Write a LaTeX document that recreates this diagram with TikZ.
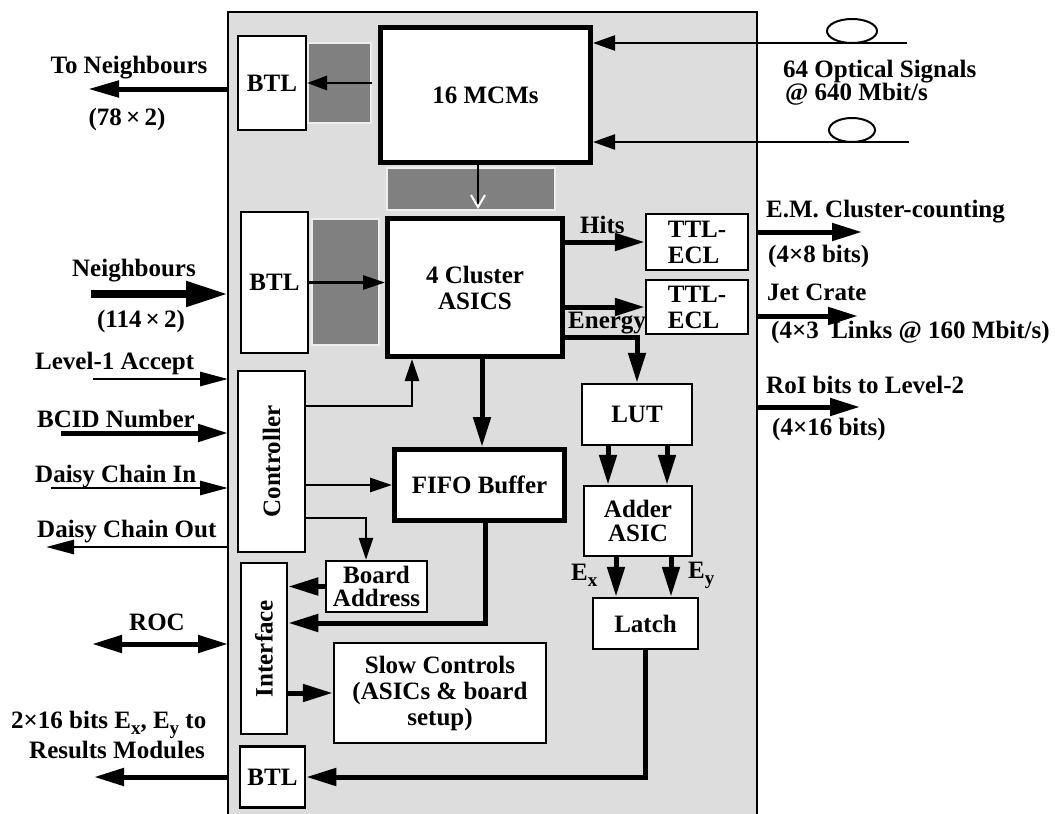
\documentclass[tikz,border=0pt]{standalone}
\usepackage{fontspec}
\usepackage{graphicx}
\setmainfont{Liberation Serif}
\usetikzlibrary{arrows.meta,shapes.geometric}
\definecolor{panelgray}{RGB}{221,221,221}
\definecolor{darkfill}{RGB}{128,128,128}
\definecolor{edgelight}{RGB}{238,238,238}
\newcommand{\lowsub}[1]{\raisebox{-6pt}{\fontsize{19}{19}\selectfont #1}}
\tikzset{
  every node/.style={font=\fontsize{25}{26}\selectfont\bfseries},
  box/.style={draw, fill=white, line width=2.5pt, inner sep=0pt, align=center},
  bigbox/.style={box, line width=5pt},
  graysq/.style={draw=edgelight, fill=darkfill, line width=1.5pt, inner sep=0pt},
  lbl/.style={inner sep=0pt, anchor=base west},
  clbl/.style={inner sep=0pt, anchor=base},
  thinarr/.style={line width=2.8pt, -{Triangle[length=28pt,width=14pt]}},
  smallarr/.style={line width=2.8pt, -{Triangle[length=22pt,width=14pt]}},
  thickarr/.style={line width=5pt, -{Triangle[length=30pt,width=17pt]}},
  optarr/.style={line width=2.2pt, -{Triangle[length=22pt,width=15pt]}},
}
\begin{document}
\begin{tikzpicture}[x=1pt,y=-1pt]
\useasboundingbox (0,0) rectangle (1055,814);
\clip (0,0) rectangle (1055,814);
% panel
\node[draw, fill=panelgray, line width=2.5pt, minimum width=529pt, minimum height=818pt, inner sep=0pt] (panel) at (492.5,421) {};
% grey blocks
\node[graysq, minimum width=63pt, minimum height=80pt] (gsq1) at (339.5,83) {};
\node[graysq, minimum width=168pt, minimum height=42pt] (gbar) at (471,189) {};
\node[graysq, minimum width=67pt, minimum height=126pt] (gsq2) at (345.5,282) {};
% boxes
\node[box, line width=2pt, minimum width=68pt, minimum height=94pt] (btl1) at (272,83) {BTL};
\node[bigbox, minimum width=210pt, minimum height=135pt] (mcm) at (485.5,95) {16 MCMs};
\node[box, line width=2pt, minimum width=67pt, minimum height=141pt] (btl2) at (274.5,282.5) {BTL};
\node[bigbox, minimum width=175pt, minimum height=138pt] (clu) at (475,287.5) {4 Cluster\\ASICS};
\node[box, minimum width=102pt, minimum height=56pt, align=left] (ttl1) at (697,242) {TTL-\\ECL};
\node[box, minimum width=102pt, minimum height=54pt, align=left] (ttl2) at (697,307) {TTL-\\ECL};
\node[box, minimum width=110pt, minimum height=61pt] (lut) at (637,414.5) {LUT};
\node[box, minimum width=67pt, minimum height=181pt] (ctrl) at (271.5,461.5) {\rotatebox{90}{Controller}};
\node[bigbox, minimum width=170pt, minimum height=71pt] (fifo) at (479.5,485) {FIFO Buffer};
\node[box, minimum width=108pt, minimum height=70pt, font=\fontsize{25}{24}\selectfont\bfseries] (adder) at (638,521) {Adder\\ASIC};
\node[box, minimum width=105pt, minimum height=51pt] (latch) at (645.5,623.5) {Latch};
\node[box, minimum width=101pt, minimum height=51pt, font=\fontsize{25}{23}\selectfont\bfseries] (board) at (376.5,586.5) {Board\\Address};
\node[box, minimum width=46pt, minimum height=171pt] (iface) at (264,648.5) {\rotatebox{90}{Interface}};
\node[box, minimum width=212pt, minimum height=100pt] (slow) at (440,693) {Slow Controls\\(ASICs \& board\\setup)};
\node[box, minimum width=65pt, minimum height=61pt] (btl3) at (272.5,777) {BTL};
% optical fibres
\node[draw, ellipse, line width=2pt, fill=white, minimum width=50pt, minimum height=24pt, inner sep=0pt] (ell1) at (852,31) {};
\node[draw, ellipse, line width=2pt, fill=white, minimum width=46pt, minimum height=24pt, inner sep=0pt] (ell2) at (852,130) {};
\coordinate (o1) at (907,43);
\coordinate (o2) at (909,142);
\draw[optarr] (o1) -- (o1 -| mcm.east);
\draw[optarr] (o2) -- (o2 -| mcm.east);
% internal connectors
\draw[smallarr, -{Triangle[length=20pt,width=14pt]}] (gsq1.east) -- (btl1.east);
\coordinate (mdtip) at (478,209);
\draw[line width=2.5pt, -{Straight Barb[color=white,length=12pt,width=14pt,line width=2pt]}] (mcm.south -| mdtip) -- (mdtip);
\draw[smallarr] (btl2.east) -- (btl2.east -| clu.west);
\draw[thickarr] (clu.east |- ttl1) -- (ttl1.west);
\draw[thickarr] (clu.east |- ttl2) -- (ttl2.west);
\coordinate (en) at (565,337);
\draw[thickarr] (clu.east |- en) -| (lut.north);
\coordinate (la1) at (608,460);
\coordinate (la2) at (667,460);
\draw[thickarr] (lut.south -| la1) -- (adder.north -| la1);
\draw[thickarr] (lut.south -| la2) -- (adder.north -| la2);
\coordinate (al1) at (616,580);
\coordinate (al2) at (671,580);
\draw[thickarr] (adder.south -| al1) -- (latch.north -| al1);
\draw[thickarr] (adder.south -| al2) -- (latch.north -| al2);
\draw[thickarr] (latch.south) |- (btl3.east);
\coordinate (cf) at (482,400);
\draw[thickarr] (clu.south -| cf) -- (fifo.north -| cf);
\coordinate (c1) at (412,406);
\draw[smallarr] (ctrl.east |- c1) -- (c1) -- (clu.south -| c1);
\draw[smallarr] (ctrl.east |- fifo) -- (fifo.west);
\coordinate (c2) at (366,518);
\draw[smallarr] (ctrl.east |- c2) -| (board.north -| c2);
\coordinate (ff) at (485,623);
\draw[thickarr] (fifo.south -| ff) -- (ff) -- (iface.east |- ff);
\draw[thickarr] (board.west) -- (board.west -| iface.east);
\draw[thickarr] (iface.east |- slow.west) -- (slow.west);
% outer connectors, left
\coordinate (tn0) at (228,89);   \coordinate (tn1) at (88,89);
\draw[line width=5pt, -{Triangle[length=31pt,width=16pt]}] (tn0) -- (tn1);
\coordinate (nb0) at (91,294);   \coordinate (nb1) at (228,294);
\draw[line width=8pt, -{Triangle[length=42pt,width=24pt]}] (nb0) -- (nb1);
\coordinate (l10) at (93,379);   \coordinate (l11) at (228,379);
\draw[thinarr] (l10) -- (l11);
\coordinate (bc0) at (61,433);   \coordinate (bc1) at (228,433);
\draw[thickarr] (bc0) -- (bc1);
\coordinate (di0) at (51,488);   \coordinate (di1) at (228,488);
\draw[thinarr] (di0) -- (di1);
\coordinate (do0) at (228,547);  \coordinate (do1) at (46,547);
\draw[thinarr] (do0) -- (do1);
\coordinate (rc0) at (92,644);   \coordinate (rc1) at (228,644);
\draw[line width=5pt, {Triangle[length=30pt,width=17pt]}-{Triangle[length=30pt,width=17pt]}] (rc0) -- (rc1);
\coordinate (rm0) at (228,777);  \coordinate (rm1) at (94,777);
\draw[thickarr] (rm0) -- (rm1);
% outer connectors, right
\coordinate (em0) at (757,232);  \coordinate (em1) at (862,232);
\draw[thickarr] (em0) -- (em1);
\coordinate (jc0) at (757,316);  \coordinate (jc1) at (858,316);
\draw[thickarr] (jc0) -- (jc1);
\coordinate (ro0) at (757,407);  \coordinate (ro1) at (860,407);
\draw[thickarr] (ro0) -- (ro1);
% labels
\node[clbl] (tTN) at (129,73) {To Neighbours};
\node[clbl] (tTN2) at (127,125) {(78\,×\,2)};
\node[clbl] (tNB) at (134,276) {Neighbours};
\node[clbl] (tNB2) at (141,327) {(114\,×\,2)};
\node[lbl] (tL1) at (35,369) {Level-1 Accept};
\node[lbl] (tBC) at (37,427) {BCID Number};
\node[lbl] (tDI) at (35,482) {Daisy Chain In};
\node[lbl] (tDO) at (37,537) {Daisy Chain Out};
\node[clbl] (tROC) at (157,630) {ROC};
\node[lbl] (tRM1) at (11,728) {2×16 bits E\lowsub{x}, E\lowsub{y} to};
\node[lbl] (tRM2) at (29,758) {Results Modules};
\node[lbl] (tOP1) at (783,77) {64 Optical Signals};
\node[lbl] (tOP2) at (785,100) {@ 640 Mbit/s};
\node[lbl] (tEM1) at (766,217) {E.M. Cluster-counting};
\node[lbl] (tEM2) at (768,262) {(4×8 bits)};
\node[lbl] (tJC1) at (767,300) {Jet Crate};
\node[lbl] (tJC2) at (771,338) {(4×3\ \ Links @ 160 Mbit/s)};
\node[lbl] (tRO1) at (766,393) {RoI bits to Level-2};
\node[lbl] (tRO2) at (772,435) {(4×16 bits)};
\node[lbl] (tHits) at (580,233) {Hits};
\node[lbl] (tEn) at (568,328) {Energy};
\node[lbl] (tEx) at (571,580) {E\lowsub{x}};
\node[lbl] (tEy) at (688,578) {E\lowsub{y}};
\end{tikzpicture}
\end{document}
